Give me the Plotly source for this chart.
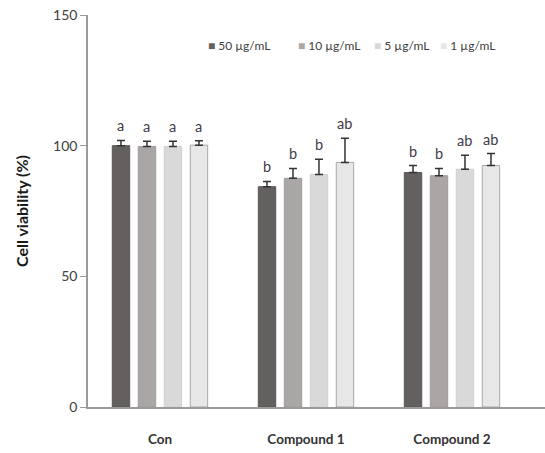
import plotly.graph_objects as go

categories = ["Con", "Compound 1", "Compound 2"]
series_names = ["50 µg/mL", "10 µg/mL", "5 µg/mL", "1 µg/mL"]
values = {
    "50 µg/mL": [100.0, 84.3, 89.7],
    "10 µg/mL": [99.7, 87.5, 88.5],
    "5 µg/mL": [99.7, 89.0, 91.0],
    "1 µg/mL": [100.2, 93.6, 92.4],
}
errors = {
    "50 µg/mL": [2.0, 2.0, 2.7],
    "10 µg/mL": [2.0, 3.8, 2.8],
    "5 µg/mL": [2.0, 5.8, 5.3],
    "1 µg/mL": [1.7, 9.2, 4.6],
}
letters = {
    "50 µg/mL": ["a", "b", "b"],
    "10 µg/mL": ["a", "b", "b"],
    "5 µg/mL": ["a", "b", "ab"],
    "1 µg/mL": ["a", "ab", "ab"],
}
colors = ["#656060", "#aba6a6", "#d9d9d9", "#e7e7e7"]
outlines = ["#5a5555", "#a09b9b", "#cfcfcf", "#a8a8a8"]
legend_px = [206, 296, 372, 438]

FONT = "Lato, 'Open Sans', sans-serif"
L, R, T, B = 88, 545, 15, 407

fig = go.Figure()
for i, name in enumerate(series_names):
    fig.add_trace(go.Bar(
        name=name, x=categories, y=values[name],
        marker=dict(color=colors[i], line=dict(color=outlines[i], width=1)),
        error_y=dict(type="data", symmetric=False, array=errors[name],
                     arrayminus=[0] * len(categories),
                     color="#333333", thickness=1.5, width=4),
        showlegend=False,
    ))

slot_px = 26
annotations = []
for i, name in enumerate(series_names):
    for j, cat in enumerate(categories):
        annotations.append(dict(
            x=cat, y=values[name][j] + errors[name][j], xref="x", yref="y",
            text=letters[name][j], showarrow=False, yanchor="bottom",
            xshift=(i - 1.5) * slot_px, yshift=4,
            font=dict(family=FONT, size=14.5, color="#3f3a48"),
        ))

for i, name in enumerate(series_names):
    annotations.append(dict(
        x=(legend_px[i] - L) / (R - L), y=(B - 45) / (B - T),
        xref="paper", yref="paper",
        text=f'<span style="color:{colors[i]}">■</span> {name}',
        showarrow=False, xanchor="left", yanchor="middle",
        font=dict(family=FONT, size=12, color="#404040"),
    ))

fig.update_layout(
    width=545, height=453,
    margin=dict(l=L, r=545 - R, t=T, b=453 - B),
    paper_bgcolor="white", plot_bgcolor="white",
    barmode="group", bargap=0.288, bargroupgap=0.33,
    annotations=annotations,
    font=dict(family=FONT, color="#404040"),
    xaxis=dict(
        range=[-0.493, 2.637], showline=True, linecolor="#9a9a9a", linewidth=1.5,
        ticks="", ticklabelstandoff=19, showgrid=False,
        tickfont=dict(family=FONT, size=13.5, color="#333333", weight="bold"),
    ),
    yaxis=dict(
        range=[0, 150], tickvals=[0, 50, 100, 150], showline=True,
        linecolor="#9a9a9a", linewidth=1.5, ticks="outside", ticklen=6,
        tickcolor="#9a9a9a", showgrid=False, zeroline=False,
        tickfont=dict(family=FONT, size=14, color="#404040"),
        title=dict(text="<b>Cell viability (%)</b>", standoff=20,
                   font=dict(family=FONT, size=16, color="#1a1a1a")),
    ),
)

fig.write_html("out.html")
